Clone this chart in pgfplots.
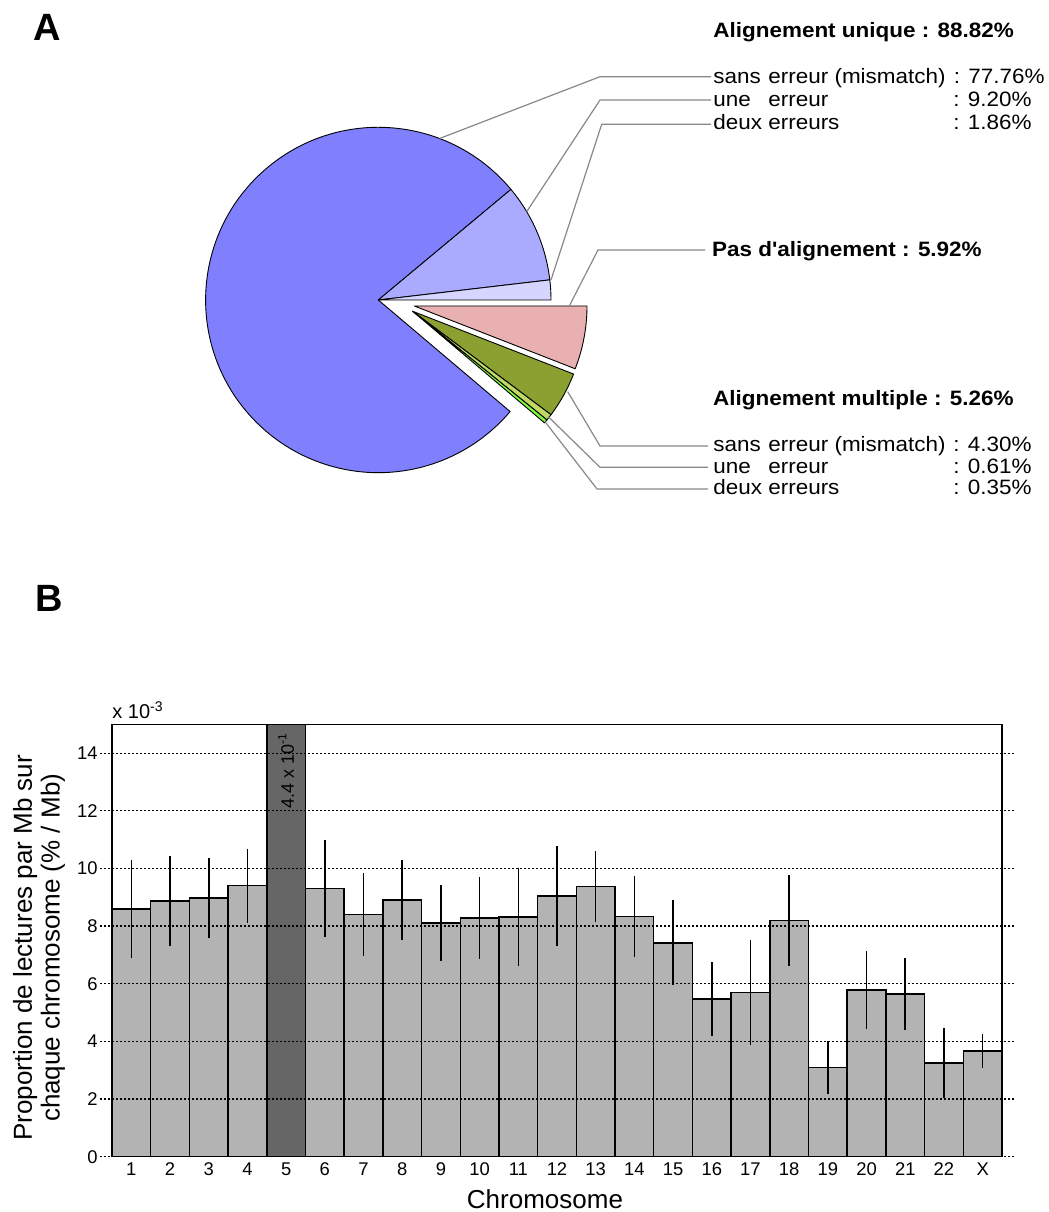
\documentclass[border=0pt]{standalone}
\usepackage{fontspec}
\setmainfont{Liberation Sans}
\newfontfamily\widefont[FakeStretch=1.08]{Liberation Sans}
\usepackage{pgfplots}
\usepackage{pgfplotstable}
\pgfplotsset{compat=1.18}

\definecolor{pieBlue}{RGB}{128,128,255}
\definecolor{pieBlueB}{RGB}{170,170,255}
\definecolor{pieBlueC}{RGB}{213,213,255}
\definecolor{piePink}{RGB}{232,176,176}
\definecolor{pieGreen}{RGB}{138,160,48}
\definecolor{pieOlive}{RGB}{192,216,100}
\definecolor{pieLime}{RGB}{128,250,64}
\definecolor{barGray}{RGB}{179,179,179}
\definecolor{barDark}{RGB}{102,102,102}
\definecolor{leaderGray}{RGB}{136,136,136}

% bar data, in units of 1e-3 (% / Mb)
\pgfplotstableread{
x y err
0 8.60 1.70
1 8.87 1.55
2 8.97 1.40
3 9.40 1.28
5 9.30 1.67
6 8.40 1.43
7 8.90 1.38
8 8.11 1.32
9 8.28 1.42
10 8.31 1.69
11 9.04 1.73
12 9.37 1.23
13 8.33 1.40
14 7.42 1.47
15 5.47 1.30
16 5.69 1.82
17 8.19 1.58
18 3.10 0.93
19 5.79 1.35
20 5.65 1.24
21 3.25 1.23
22 3.66 0.58
}\bardata
\pgfplotstableread{
x y
4 440
}\bardark

% pie percentages
\def\pUa{77.76}\def\pUb{9.20}\def\pUc{1.86}
\def\pNo{5.92}
\def\pMa{4.30}\def\pMb{0.61}\def\pMc{0.35}

\begin{document}
\begin{tikzpicture}
\path[use as bounding box] (0,0) rectangle (524.5pt,606pt);
\pgfmathsetmacro{\aA}{3.6*\pUc}
\pgfmathsetmacro{\aB}{\aA+3.6*\pUb}
\pgfmathsetmacro{\aC}{\aB+3.6*\pUa}
\pgfmathsetmacro{\aP}{360-3.6*\pNo}
\pgfmathsetmacro{\aD}{\aP-3.6*\pMa}
\pgfmathsetmacro{\aE}{\aD-3.6*\pMb}
\pgfmathsetmacro{\aF}{\aE-3.6*\pMc}
\def\R{86.35pt}

% ---------- Panel A : pie ----------
\begin{axis}[at={(0,0)}, anchor=south west, x=0.5pt, y=0.5pt,
  xmin=0, xmax=1049, ymin=0, ymax=1212, hide axis, clip=false]
\tikzset{wedge/.style={draw=black, line width=0.45pt, line join=round},
         leader/.style={draw=leaderGray, line width=0.6pt},
         lab/.style={anchor=base west, inner sep=0pt, font=\widefont\fontsize{10.4}{12}\selectfont},
         num/.style={anchor=base east, inner sep=0pt, font=\widefont\fontsize{10.4}{12}\selectfont},
         tit/.style={anchor=base west, inner sep=0pt, font=\widefont\bfseries\fontsize{10.4}{12}\selectfont}}
% unique alignment
\filldraw[wedge, fill=pieBlue] (axis cs:378.3,912) -- ++(\aB:\R) arc[start angle=\aB, end angle=\aC, radius=\R] -- cycle;
\filldraw[wedge, fill=pieBlueB] (axis cs:378.3,912) -- ++(\aA:\R) arc[start angle=\aA, end angle=\aB, radius=\R] -- cycle;
\filldraw[wedge, fill=pieBlueC] (axis cs:378.3,912) -- ++(0:\R) arc[start angle=0, end angle=\aA, radius=\R] -- cycle;
% no alignment (exploded)
\filldraw[wedge, fill=piePink] (axis cs:414.3,906) -- ++(\aP:\R) arc[start angle=\aP, end angle=360, radius=\R] -- cycle;
% multiple alignment (exploded)
\filldraw[wedge, fill=pieGreen] (axis cs:412.7,900.7) -- ++(\aD:\R) arc[start angle=\aD, end angle=\aP, radius=\R] -- cycle;
\filldraw[wedge, fill=pieOlive] (axis cs:412.7,900.7) -- ++(\aE:\R) arc[start angle=\aE, end angle=\aD, radius=\R] -- cycle;
\filldraw[wedge, fill=pieLime] (axis cs:412.7,900.7) -- ++(\aF:\R) arc[start angle=\aF, end angle=\aE, radius=\R] -- cycle;
% leader lines
\draw[leader] (axis cs:439.6,1073.5) -- (axis cs:600,1135.3) -- (axis cs:711,1135.3);
\draw[leader] (axis cs:526.7,1000.3) -- (axis cs:600,1112) -- (axis cs:711,1112);
\draw[leader] (axis cs:551,932) -- (axis cs:601.7,1087.7) -- (axis cs:711,1087.7);
\draw[leader] (axis cs:569.3,906) -- (axis cs:598,962) -- (axis cs:705,962);
\draw[leader] (axis cs:567.7,820.3) -- (axis cs:600,766) -- (axis cs:708,766);
\draw[leader] (axis cs:548.3,795.3) -- (axis cs:600,744.7) -- (axis cs:708,744.7);
\draw[leader] (axis cs:545,790.3) -- (axis cs:597,723) -- (axis cs:708,723);
% labels
\node[anchor=base west, inner sep=0pt, font=\bfseries\fontsize{19}{22}\selectfont] at (axis cs:33,1171) {A};
\node[anchor=base west, inner sep=0pt, font=\bfseries\fontsize{19}{22}\selectfont] at (axis cs:35,600) {B};
\node[tit] at (axis cs:713,1174.3) {Alignement unique : 88.82\%};
\node[lab] at (axis cs:713,1128) {sans};
\node[lab] at (axis cs:768,1128) {erreur (mismatch)};
\node[num] at (axis cs:1045,1128) {: 77.76\%};
\node[lab] at (axis cs:713,1105.3) {une};
\node[lab] at (axis cs:768,1105.3) {erreur};
\node[num] at (axis cs:1032,1105.3) {: 9.20\%};
\node[lab] at (axis cs:713,1082.7) {deux erreurs};
\node[num] at (axis cs:1032,1082.7) {: 1.86\%};
\node[tit] at (axis cs:711.7,955.3) {Pas d'alignement : 5.92\%};
\node[tit] at (axis cs:712.7,806) {Alignement multiple : 5.26\%};
\node[lab] at (axis cs:713,760.3) {sans};
\node[lab] at (axis cs:768,760.3) {erreur (mismatch)};
\node[num] at (axis cs:1032,760.3) {: 4.30\%};
\node[lab] at (axis cs:713,738.7) {une};
\node[lab] at (axis cs:768,738.7) {erreur};
\node[num] at (axis cs:1032,738.7) {: 0.61\%};
\node[lab] at (axis cs:713,717) {deux erreurs};
\node[num] at (axis cs:1032,717) {: 0.35\%};
\end{axis}

% ---------- Panel B : bars ----------
\begin{axis}[at={(56pt,27.65pt)}, anchor=south west, scale only axis,
  width=445pt, height=216.2pt,
  xmin=-0.5, xmax=22.5, ymin=0, ymax=15,
  clip mode=individual, axis on top,
  axis line style={line width=0.7pt},
  xtick={0,1,...,22},
  xticklabels={1,2,3,4,5,6,7,8,9,10,11,12,13,14,15,16,17,18,19,20,21,22,X},
  ytick={0,2,...,14},
  tick align=outside, major tick length=6pt,
  xtick style={draw=none},
  ytick style={black, line width=0.6pt, dash pattern=on 1pt off 1pt},
  ymajorgrids,
  major grid style={black, line width=0.6pt, dash pattern=on 1pt off 1pt},
  /pgf/number format/assume math mode=true,
  tick label style={font=\fontsize{9.2}{11}\selectfont},
  yticklabel style={inner sep=1pt},
  xticklabel style={inner sep=1pt, yshift=4pt},
  xlabel={Chromosome},
  xlabel style={at={(axis description cs:0.4865,-0.099)}, anchor=center, font=\fontsize{13}{15}\selectfont},
  ylabel={Proportion de lectures par Mb sur\\chaque chromosome (\% / Mb)},
  ylabel style={at={(axis description cs:-0.082,0.483)}, anchor=center, align=center, font=\fontsize{13}{13.8}\selectfont},
]
\addplot[ybar, bar width=1, bar shift=0, fill=barGray, draw=black, line width=0.75pt,
  error bars/.cd, y dir=both, y explicit, error mark=none,
  error bar style={line width=0.8pt, black}]
  table[x=x, y=y, y error=err] {\bardata};
\addplot[ybar, bar width=1, bar shift=0, fill=barDark, draw=black, line width=0.75pt]
  table[x=x, y=y] {\bardark};
\node[rotate=90, inner sep=0pt, font=\fontsize{9}{10.5}\selectfont] at (axis cs:4,13.4) {4.4 x 10\textsuperscript{-1}};
\node[anchor=base west, inner sep=0pt, font=\fontsize{10}{11}\selectfont] at (rel axis cs:0,1) [yshift=3pt] {x 10\textsuperscript{-3}};
\end{axis}
\end{tikzpicture}
\end{document}
